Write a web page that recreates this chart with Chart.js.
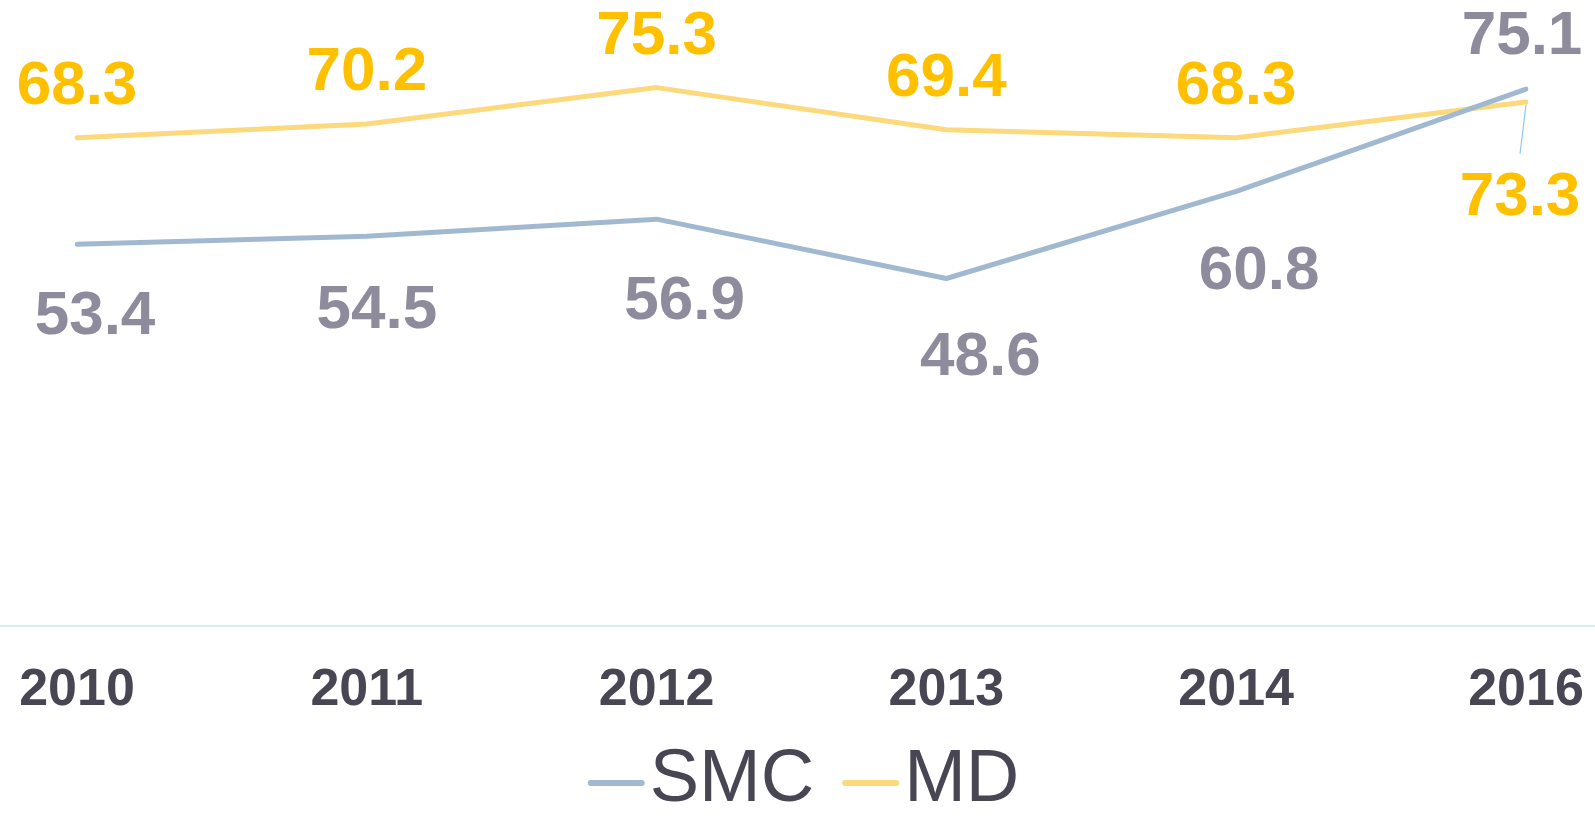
<!DOCTYPE html>
<html>
<head>
<meta charset="utf-8">
<script src="https://cdn.jsdelivr.net/npm/chart.js@4/dist/chart.umd.min.js"></script>
<style>
  html, body { margin: 0; padding: 0; background: #ffffff; }
  #wrap { width: 1595px; height: 821px; position: relative; }
</style>
</head>
<body>
<div id="wrap"><canvas id="c" width="1595" height="821"></canvas></div>
<script>
// ---- data ----
const categories = ['2010', '2011', '2012', '2013', '2014', '2016'];
const smcValues = [53.4, 54.5, 56.9, 48.6, 60.8, 75.1];
const mdValues  = [68.3, 70.2, 75.3, 69.4, 68.3, 73.3];
const seriesNames = ['SMC', 'MD'];

// ---- style ----
const FONT = '"Liberation Sans", Arial, Helvetica, sans-serif';
const smcLine = '#a0b9d0';
const mdLine = '#fbd97c';
const smcText = '#8d8b9c';
const mdText = '#ffc000';
const axisText = '#474652';

// label placement (offsets of label centre from its point), per series
const labelPlacement = {
  0: { dx: [18, 10, 28, 34, 23, -4], dy: [71, 73, 81, 77, 79, -54] },
  1: { dx: [0, 0, 0, 0, 0, -6],      dy: [-53, -53, -53, -53, -53, 94] }
};

const valueLabels = {
  id: 'valueLabels',
  afterDatasetsDraw(chart) {
    const ctx = chart.ctx;
    ctx.save();
    ctx.font = 'bold 62px ' + FONT;
    ctx.textAlign = 'center';
    ctx.textBaseline = 'middle';
    chart.data.datasets.forEach((ds, di) => {
      const meta = chart.getDatasetMeta(di);
      const pl = labelPlacement[di];
      meta.data.forEach((pt, i) => {
        const x = pt.x + pl.dx[i];
        const y = pt.y + pl.dy[i];
        if (pl.dy[i] > 85) {
          ctx.strokeStyle = '#8fcaf2';
          ctx.lineWidth = 1.2;
          ctx.beginPath();
          ctx.moveTo(pt.x, pt.y + 3);
          ctx.lineTo(pt.x - 6, pt.y + 52);
          ctx.stroke();
        }
        ctx.fillStyle = ds.labelColor;
        ctx.fillText(ds.data[i].toFixed(1), x, y + 2);
      });
    });
    ctx.restore();
  }
};

const fullAxisLine = {
  id: 'fullAxisLine',
  beforeDatasetsDraw(chart) {
    const ctx = chart.ctx;
    const y = chart.scales.y.getPixelForValue(0);
    ctx.save();
    ctx.strokeStyle = '#d6eaf8';
    ctx.lineWidth = 2;
    ctx.beginPath();
    ctx.moveTo(0, y);
    ctx.lineTo(chart.width, y);
    ctx.stroke();
    ctx.restore();
  }
};

const customLegend = {
  id: 'customLegend',
  afterDraw(chart) {
    const ctx = chart.ctx;
    ctx.save();
    ctx.font = '74px ' + FONT;
    ctx.textBaseline = 'middle';
    ctx.textAlign = 'left';
    const markW = 57, gapMark = 5, gapItem = 28;
    const items = chart.data.datasets.map(ds => ({ text: ds.label, color: ds.borderColor, w: ctx.measureText(ds.label).width }));
    let total = 0;
    items.forEach((it, i) => { total += markW + gapMark + it.w + (i ? gapItem : 0); });
    let x = (chart.width - total) / 2 + 6;
    const y = 781;
    items.forEach((it, i) => {
      if (i) x += gapItem;
      ctx.strokeStyle = it.color;
      ctx.lineWidth = 6;
      ctx.lineCap = 'round';
      ctx.beginPath();
      ctx.moveTo(x + 3, y + 2);
      ctx.lineTo(x + markW - 3, y + 2);
      ctx.stroke();
      x += markW + gapMark;
      ctx.fillStyle = axisText;
      ctx.fillText(it.text, x, y);
      x += it.w;
    });
    ctx.restore();
  }
};

new Chart(document.getElementById('c'), {
  type: 'line',
  data: {
    labels: categories,
    datasets: [
      { label: seriesNames[0], data: smcValues, borderColor: smcLine, labelColor: smcText,
        borderWidth: 5, pointRadius: 0, tension: 0, borderCapStyle: 'round', borderJoinStyle: 'round', fill: false },
      { label: seriesNames[1], data: mdValues, borderColor: mdLine, labelColor: mdText,
        borderWidth: 5, pointRadius: 0, tension: 0, borderCapStyle: 'round', borderJoinStyle: 'round', fill: false }
    ]
  },
  options: {
    responsive: false,
    animation: false,
    devicePixelRatio: 1,
    layout: { padding: { left: 77, right: 69, top: 54, bottom: 0 } },
    plugins: { legend: { display: false }, tooltip: { enabled: false } },
    scales: {
      x: {
        offset: false,
        grid: { display: false, drawTicks: false },
        border: { display: false },
        ticks: { color: axisText, font: { family: FONT, size: 52, weight: 'bold' }, padding: 33, maxRotation: 0, autoSkip: false },
        afterFit(s) { s.height = 195; s.paddingLeft = 0; s.paddingRight = 0; }
      },
      y: {
        display: false,
        min: 0,
        max: 80
      }
    }
  },
  plugins: [fullAxisLine, valueLabels, customLegend]
});
</script>
</body>
</html>
